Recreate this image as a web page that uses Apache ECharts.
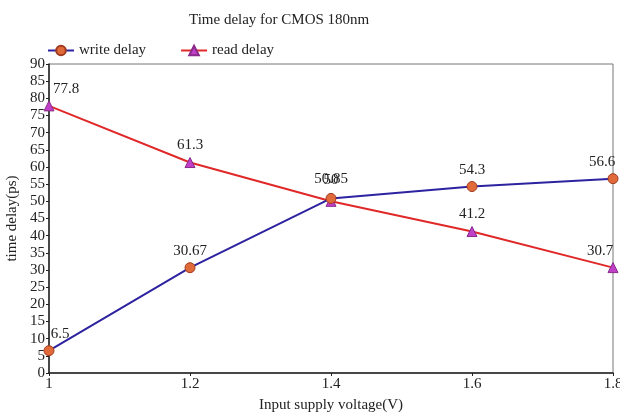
<!DOCTYPE html>
<html>
<head>
<meta charset="utf-8">
<script src="https://cdn.jsdelivr.net/npm/echarts@6/dist/echarts.min.js"></script>
<style>
  html, body { margin: 0; padding: 0; background: #fff; }
  #chart { width: 620px; height: 412px; }
</style>
</head>
<body>
<div id="chart"></div>
<script>
const voltages = [1, 1.2, 1.4, 1.6, 1.8];
const writeDelay = [6.5, 30.67, 50.85, 54.3, 56.6];
const readDelay = [77.8, 61.3, 50, 41.2, 30.7];
const writeLabels = ['6.5', '30.67', '50.85', '54.3', '56.6'];
const readLabels = ['77.8', '61.3', '50', '41.2', '30.7'];

const font = '"Liberation Serif", "Times New Roman", serif';

// label nudges so text sits like the original (edge points pushed inward)
function points(values, labels, offsets) {
  return values.map((v, i) => ({
    value: [voltages[i], v],
    label: { formatter: labels[i], offset: offsets[i] },
  }));
}

const chart = echarts.init(document.getElementById('chart'));
chart.setOption({
  animation: false,
  title: {
    text: 'Time delay for CMOS 180nm',
    left: 184,
    top: 8,
    textStyle: { fontFamily: font, fontSize: 15, fontWeight: 'normal', color: '#222' },
  },
  legend: {
    left: 42,
    top: 38,
    itemGap: 34,
    itemWidth: 26,
    itemHeight: 12,
    textStyle: { fontFamily: font, fontSize: 15, color: '#222' },
    data: ['write delay', 'read delay'],
  },
  grid: {
    left: 49, right: 7, top: 64, bottom: 39,
    outerBoundsMode: 'none',
    show: true, borderColor: '#777', borderWidth: 1,
  },
  xAxis: {
    type: 'value',
    min: 1, max: 1.8, interval: 0.2,
    name: 'Input supply voltage(V)',
    nameLocation: 'middle',
    nameGap: 25,
    nameTextStyle: { fontFamily: font, fontSize: 15, color: '#222' },
    axisLine: { lineStyle: { color: '#222', width: 1.5 } },
    axisTick: { show: true, length: 3, lineStyle: { color: '#222' } },
    axisLabel: { fontFamily: font, fontSize: 15, color: '#222', margin: 4 },
    splitLine: { show: false },
  },
  yAxis: {
    type: 'value',
    min: 0, max: 90, interval: 5,
    name: 'time delay(ps)',
    nameLocation: 'middle',
    nameGap: 29,
    nameTextStyle: { fontFamily: font, fontSize: 15, color: '#222' },
    axisLine: { show: true, lineStyle: { color: '#222', width: 1.5 } },
    axisTick: { show: true, length: 3, lineStyle: { color: '#222' } },
    axisLabel: { fontFamily: font, fontSize: 15, color: '#222', margin: 4 },
    splitLine: { show: false },
  },
  series: [
    {
      name: 'write delay',
      type: 'line',
      data: points(writeDelay, writeLabels, [[11, 0], [0, 0], [0, -2], [0, 0], [-11, 0]]),
      symbol: 'circle',
      symbolSize: 10,
      lineStyle: { color: '#2d22a0', width: 2 },
      itemStyle: { color: '#e06a3a', borderColor: '#a03a20', borderWidth: 1 },
      label: {
        show: true, position: 'top', distance: 4,
        fontFamily: font, fontSize: 15, color: '#222',
      },
      z: 3,
    },
    {
      name: 'read delay',
      type: 'line',
      data: points(readDelay, readLabels, [[17, 0], [0, 0], [0, -4], [0, 0], [-13, 0]]),
      symbol: 'triangle',
      symbolSize: 10,
      lineStyle: { color: '#e02828', width: 2 },
      itemStyle: { color: '#c040c8', borderColor: '#8a2a8a', borderWidth: 1 },
      label: {
        show: true, position: 'top', distance: 4,
        fontFamily: font, fontSize: 15, color: '#222',
      },
      z: 2,
    },
  ],
});
</script>
</body>
</html>
